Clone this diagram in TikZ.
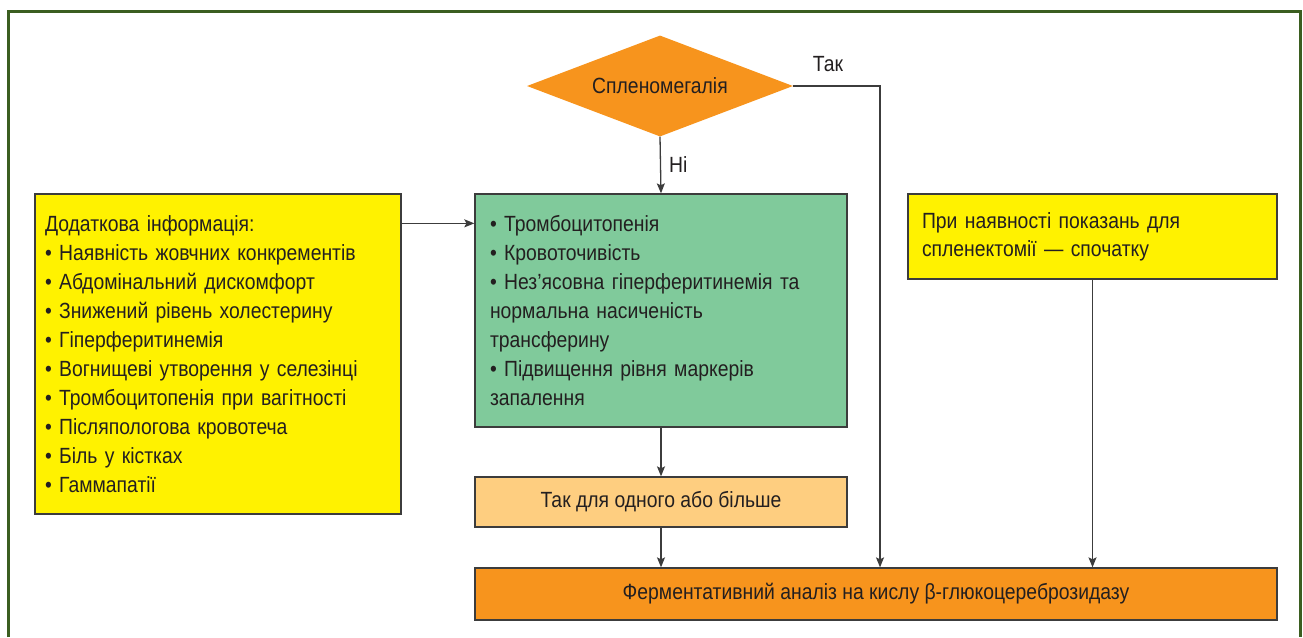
\documentclass[tikz,border=0pt]{standalone}
\usepackage{fontspec}
\setmainfont[FakeStretch=0.88]{Liberation Sans}
\usepackage{xcolor}
\definecolor{GDframe}{HTML}{3B5E20}
\definecolor{GDorange}{HTML}{F7941D}
\definecolor{GDgreen}{HTML}{80CA9B}
\definecolor{GDyellow}{HTML}{FFF200}
\definecolor{GDpeach}{HTML}{FECE80}
\definecolor{GDline}{HTML}{3C3C3C}
\definecolor{GDtext}{HTML}{231F20}
\usetikzlibrary{arrows.meta, shapes.geometric, positioning}

\begin{document}
\begin{tikzpicture}[
    x=1pt, y=-1pt,
    font=\fontsize{22}{29}\selectfont, text=GDtext,
    flowbox/.style={draw=GDline, line width=1.3pt, inner ysep=0pt},
    listbox/.style={flowbox, align=left, inner xsep=#1},
    decision/.style={draw=none, fill=GDorange, diamond, shape aspect=2.6,
      inner sep=0pt, minimum width=266pt, minimum height=101pt},
    flowarrow/.style={-{Stealth[length=10pt, width=8pt, inset=2pt]},
      draw=GDline, line width=1.3pt},
    edgelabel/.style={inner sep=2pt}
  ]
    \useasboundingbox (0,0) rectangle (1303,637);
    % frame (bottom edge lies outside the page)
    \draw[GDframe, line width=3pt] (8,637) -- (8,11) -- (1300,11) -- (1300,637);

    \node[decision] (spl) at (660,86) {Спленомегалія};
    \node[listbox=10pt, fill=GDyellow, text width=346pt, minimum height=320pt]
      (info) at (218,354)
      {Додаткова інформація:\\
       • Наявність жовчних конкрементів\\
       • Абдомінальний дискомфорт\\
       • Знижений рівень холестерину\\
       • Гіперферитинемія\\
       • Вогнищеві утворення у селезінці\\
       • Тромбоцитопенія при вагітності\\
       • Післяпологова кровотеча\\
       • Біль у кістках\\
       • Гаммапатії};
    \node[listbox=15pt, fill=GDgreen, text width=342pt, minimum height=233pt]
      (sympt) at (661,310.5)
      {• Тромбоцитопенія\\
       • Кровоточивість\\
       • Нез’ясовна гіперферитинемія та\\
       нормальна насиченість\\
       трансферину\\
       • Підвищення рівня маркерів\\
       запалення};
    \node[listbox=14pt, fill=GDyellow, text width=341pt, minimum height=85pt,
      font=\fontsize{22}{28}\selectfont]
      (splx) at (1092.5,236.5)
      {При наявності показань для\\
       спленектомії — спочатку};
    \node[flowbox, fill=GDpeach, minimum width=372pt, minimum height=50pt]
      (yes) at (661,502) {Так для одного або більше};
    \node[flowbox, fill=GDorange, minimum width=802pt, minimum height=52pt]
      (enz) at (876,594) {Ферментативний аналіз на кислу β-глюкоцереброзидазу};
    \coordinate (tak) at (880,86);

    \draw[flowarrow] (spl.south) -- (sympt.north)
      node[midway, right=6pt, edgelabel] {Ні};
    \draw[flowarrow] (spl.east) -- (tak)
      node[pos=0.4, above=12pt, edgelabel] {Так}
      -- (tak |- enz.north);
    \draw[flowarrow] ([yshift=-30pt]info.north east) -- ([yshift=-30pt]sympt.north west);
    \draw[flowarrow] (sympt.south) -- (yes.north);
    \draw[flowarrow] (yes.south) -- (yes.south |- enz.north);
    \draw[flowarrow] (splx.south) -- (splx.south |- enz.north);
  \end{tikzpicture}
\end{document}
